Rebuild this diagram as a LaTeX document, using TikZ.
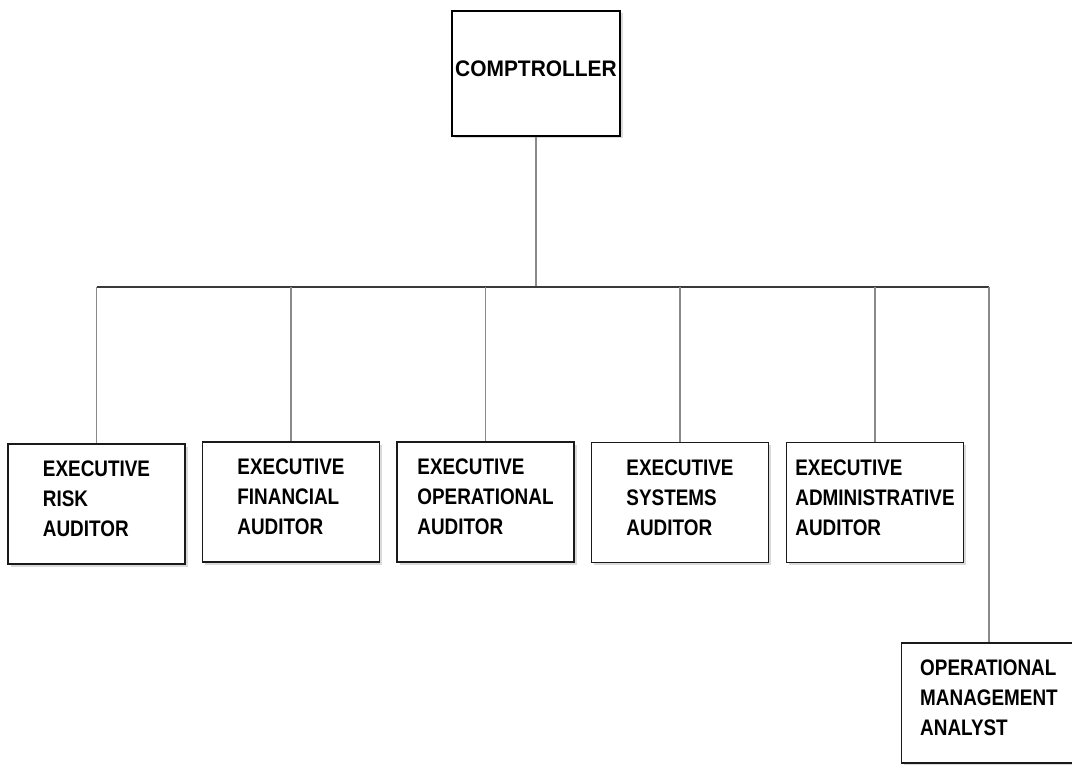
\documentclass[tikz,border=0pt]{standalone}
\usepackage{fontspec}
\setmainfont{Liberation Sans}
\newfontfamily\narrowsans{Liberation Sans}[FakeStretch=0.84]
\newfontfamily\topsans{Liberation Sans}[FakeStretch=0.93]
\usepackage{tikz}
\usetikzlibrary{shadows}
\definecolor{edge}{HTML}{1A1A1A}
\definecolor{linkgray}{HTML}{8A8A8A}
\definecolor{busgray}{HTML}{3A3A3A}
\definecolor{shade}{HTML}{DADADA}

\begin{document}
\begin{tikzpicture}[x=1pt,y=-1pt,
    topbox/.style={draw=black,line width=2.6pt,fill=white,minimum width=168pt,minimum height=125pt,inner sep=0pt,
      drop shadow={shadow xshift=3pt,shadow yshift=-2pt,fill=shade,opacity=1},
      text depth=9pt,font=\topsans\bfseries\fontsize{22.5}{30}\selectfont},
    execbox/.style={draw=edge,line width=1.4pt,fill=white,minimum width=177pt,minimum height=120pt,inner sep=0pt,align=left,
      drop shadow={shadow xshift=2.5pt,shadow yshift=-2.5pt,fill=shade,opacity=1},
      text depth=10pt,font=\narrowsans\bfseries\fontsize{22.5}{30}\selectfont},
    link/.style={draw=linkgray,line width=1.2pt},
    bus/.style={draw=busgray,line width=1.5pt}]
  \useasboundingbox (0,0) rectangle (1072,765);
  \fill[white] (0,0) rectangle (1072,765);
  \node[topbox] (comp) at (536,73.5) {COMPTROLLER};
  \node[execbox] (risk) at (96.5,504) {EXECUTIVE\\RISK\\AUDITOR};
  \node[execbox] (fin) at (291,502) {EXECUTIVE\\FINANCIAL\\AUDITOR};
  \node[execbox] (oper) at (485.5,502) {EXECUTIVE\\OPERATIONAL\\AUDITOR};
  \node[execbox] (sys) at (680,502.5) {EXECUTIVE\\SYSTEMS\\AUDITOR};
  \node[execbox] (admin) at (875,502.5) {EXECUTIVE\\ADMINISTRATIVE\\AUDITOR};
  \node[execbox,minimum width=175pt] (analyst) at (989,703) {OPERATIONAL\\MANAGEMENT\\ANALYST};
  \coordinate (busL) at (96.5,287);
  \draw[link] (comp.south) -- (comp.south |- busL);
  \draw[bus] (risk.north |- busL) -- (analyst.north |- busL);
  \draw[link] (analyst.north |- busL) -- (analyst.north);
  \foreach \b in {risk,fin,oper,sys,admin}
    \draw[link] (\b.north |- busL) -- (\b.north);
\end{tikzpicture}
\end{document}
